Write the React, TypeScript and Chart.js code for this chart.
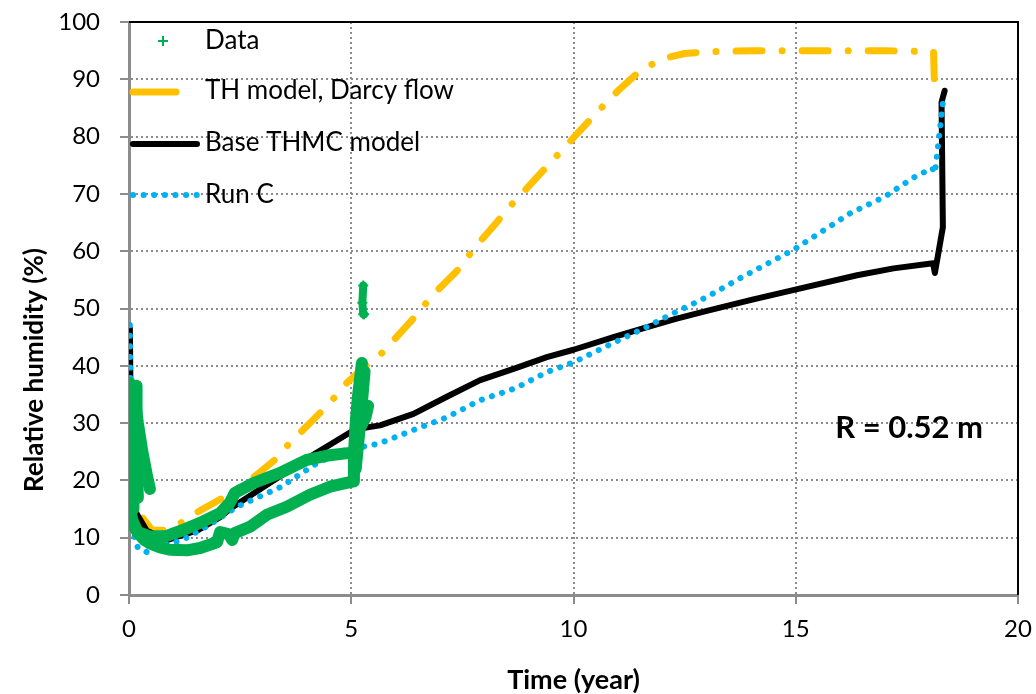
import React, { useEffect, useRef } from "react";
import { Chart, registerables } from "chart.js";

Chart.register(...registerables);

const FONT = "Lato, 'Liberation Sans', sans-serif";

// Axis ticks
const xTicks = [0, 5, 10, 15, 20];
const yTicks = [0, 10, 20, 30, 40, 50, 60, 70, 80, 90, 100];

// TH model, Darcy flow
const thTime = [0.31, 0.52, 0.81, 1.2, 1.55, 2.1, 2.72, 3.33, 3.58, 4.3, 4.57, 4.9, 5.35, 5.65, 5.92, 6.37, 6.84, 7.36, 7.83, 8.28, 8.53, 9.0, 9.5, 10.0, 10.5, 11.0, 11.5, 12.0, 12.5, 13.0, 14.0, 15.0, 16.0, 17.0, 18.1, 18.12, 18.25];
const thRH = [13.4, 11.3, 11.3, 12.7, 14.5, 16.9, 20.0, 23.9, 26.2, 31.8, 34.0, 37.0, 40.1, 41.9, 44.2, 48.0, 52.4, 56.4, 61.1, 65.1, 67.5, 71.4, 75.6, 79.8, 84.0, 88.0, 91.5, 93.6, 94.5, 94.8, 95.0, 95.0, 95.0, 95.0, 94.8, 89.5, 87.3];

// Base THMC model
const baseTime = [0.02, 0.03, 0.06, 0.15, 0.4, 0.87, 1.55, 2.05, 2.3, 3.0, 4.07, 5.0, 5.3, 5.65, 6.4, 7.15, 7.9, 8.7, 9.4, 10.0, 10.9, 11.6, 12.3, 13.0, 14.0, 14.94, 16.38, 17.2, 18.09, 18.13, 18.31, 18.28, 18.35];
const baseRH = [46.5, 38.0, 22.0, 14.5, 11.2, 9.6, 11.3, 13.6, 15.2, 18.7, 24.1, 28.5, 29.2, 29.6, 31.6, 34.6, 37.5, 39.6, 41.5, 42.8, 45.0, 46.6, 48.2, 49.6, 51.5, 53.2, 55.8, 57.0, 57.9, 56.2, 64.2, 86.0, 88.0];

// Run C
const runCTime = [0.02, 0.03, 0.05, 0.08, 0.2, 0.4, 0.81, 1.2, 1.8, 2.43, 3.4, 4.23, 4.97, 5.38, 5.65, 6.4, 7.15, 7.9, 8.7, 9.4, 10.0, 10.9, 11.6, 12.1, 13.0, 13.75, 14.94, 16.22, 17.0, 17.64, 18.07, 18.13, 18.17, 18.25, 18.31];
const runCRH = [47.1, 38.0, 13.6, 11.3, 8.2, 7.5, 8.7, 9.6, 12.2, 15.4, 18.8, 23.0, 25.7, 26.0, 26.5, 28.8, 31.0, 34.0, 36.1, 38.9, 40.6, 44.0, 46.6, 48.6, 52.0, 55.3, 60.2, 66.6, 69.5, 72.8, 74.5, 73.6, 76.4, 81.7, 85.9];

// Measured data, as continuous traces
const dataStartTime = [0.02, 0.02, 0.05, 0.1];
const dataStartRH = [37.0, 20.0, 14.0, 12.0];
const dataStart2Time = [0.1, 0.1];
const dataStart2RH = [36.0, 15.0];
const dataStart3Time = [0.17, 0.17, 0.2];
const dataStart3RH = [36.5, 24.0, 17.0];
const dataDropTime = [0.1, 0.2, 0.3, 0.4, 0.47];
const dataDropRH = [36.0, 30.0, 25.0, 21.0, 18.5];
const dataLowTime = [0.08, 0.2, 0.35, 0.47, 0.7, 0.92, 1.3, 1.6, 1.98, 2.05, 2.25, 2.32, 2.38, 2.72, 3.1, 3.55, 4.07, 4.52, 4.97, 5.04, 5.06, 5.1, 5.15, 5.24];
const dataLowRH = [13.0, 10.8, 9.6, 9.0, 8.3, 7.9, 7.8, 8.2, 9.2, 11.0, 10.6, 9.6, 10.8, 11.9, 14.0, 15.4, 17.5, 18.9, 19.7, 19.8, 24.5, 30.0, 34.6, 40.5];
const dataUpTime = [0.1, 0.2, 0.47, 0.85, 1.2, 1.6, 2.05, 2.27, 2.38, 2.79, 3.4, 4.0, 4.52, 4.97, 5.05];
const dataUpRH = [12.0, 11.0, 10.2, 10.3, 11.3, 12.6, 14.3, 16.1, 17.8, 19.5, 21.3, 23.6, 24.4, 24.8, 24.8];
const dataRiseTime = [5.1, 5.2, 5.3];
const dataRiseRH = [22.0, 30.0, 39.0];
const dataSpurTime = [5.22, 5.32, 5.38];
const dataSpurRH = [29.5, 31.0, 33.0];
const dataLateTime = [5.27, 5.25, 5.27, 5.29];
const dataLateRH = [54.0, 51.0, 49.0, 49.0];

const GREEN = "#00B050";
const ORANGE = "#FFC000";
const BLUE = "#00B0F0";

const pts = (t: number[], v: number[]) => t.map((x, i) => ({ x, y: v[i] }));

const greenTrace = (t: number[], v: number[], extra: any = {}) => ({
  label: "Data",
  data: pts(t, v),
  showLine: true,
  borderColor: GREEN,
  backgroundColor: GREEN,
  borderWidth: 12,
  borderCapStyle: "round",
  borderJoinStyle: "round",
  pointRadius: 0,
  order: 0,
  ...extra,
});

const legendItems = [
  { text: "Data", y: 41 },
  { text: "TH model, Darcy flow", y: 91 },
  { text: "Base THMC model", y: 143 },
  { text: "Run C", y: 195 },
];

const decorPlugin = {
  id: "decor",
  beforeDatasetsDraw(chart: any) {
    const { ctx, chartArea: a } = chart;
    ctx.save();
    ctx.strokeStyle = "#000";
    ctx.lineWidth = 2;
    ctx.beginPath();
    ctx.moveTo(a.left, a.top);
    ctx.lineTo(a.right, a.top);
    ctx.lineTo(a.right, a.bottom);
    ctx.stroke();
    ctx.restore();
  },
  afterDraw(chart: any) {
    const { ctx, scales } = chart;
    ctx.save();
    // legend symbols
    ctx.strokeStyle = GREEN;
    ctx.lineWidth = 2;
    ctx.beginPath();
    ctx.moveTo(158, 41);
    ctx.lineTo(168, 41);
    ctx.moveTo(163, 36);
    ctx.lineTo(163, 46);
    ctx.stroke();

    ctx.lineCap = "round";
    ctx.strokeStyle = ORANGE;
    ctx.lineWidth = 7;
    ctx.beginPath();
    ctx.moveTo(133, 92);
    ctx.lineTo(176, 92);
    ctx.stroke();

    ctx.strokeStyle = "#000";
    ctx.lineWidth = 6;
    ctx.beginPath();
    ctx.moveTo(133, 144);
    ctx.lineTo(197, 144);
    ctx.stroke();

    ctx.strokeStyle = BLUE;
    ctx.lineWidth = 6;
    ctx.setLineDash([0.1, 10.5]);
    ctx.beginPath();
    ctx.moveTo(133, 195);
    ctx.lineTo(197, 195);
    ctx.stroke();
    ctx.setLineDash([]);

    ctx.fillStyle = "#000";
    ctx.font = `26px ${FONT}`;
    ctx.textBaseline = "middle";
    ctx.textAlign = "left";
    legendItems.forEach((it) => ctx.fillText(it.text, 205, it.y));

    // radius label
    ctx.font = `bold 31px ${FONT}`;
    ctx.textAlign = "center";
    ctx.fillText("R = 0.52 m", scales.x.getPixelForValue(17.55), scales.y.getPixelForValue(29.1));

    // vertical axis title
    ctx.font = `bold 26px ${FONT}`;
    ctx.translate(35, 370);
    ctx.rotate(-Math.PI / 2);
    ctx.fillText("Relative humidity (%)", 0, 0);
    ctx.restore();
  },
};

export default function App() {
  const ref = useRef<HTMLCanvasElement | null>(null);

  useEffect(() => {
    if (!ref.current) return;
    const chart = new Chart(ref.current, {
      type: "scatter",
      data: {
        datasets: [
          greenTrace(dataStartTime, dataStartRH),
          greenTrace(dataStart2Time, dataStart2RH),
          greenTrace(dataStart3Time, dataStart3RH),
          greenTrace(dataDropTime, dataDropRH),
          greenTrace(dataLowTime, dataLowRH),
          greenTrace(dataUpTime, dataUpRH),
          greenTrace(dataRiseTime, dataRiseRH),
          greenTrace(dataSpurTime, dataSpurRH),
          greenTrace(dataLateTime, dataLateRH, {
            borderWidth: 8,
            pointRadius: 5,
            pointStyle: "cross",
            pointBorderWidth: 2,
            pointBorderColor: GREEN,
          }),
          {
            label: "Run C",
            data: pts(runCTime, runCRH),
            showLine: true,
            borderColor: BLUE,
            borderWidth: 6,
            borderDash: [0.1, 10.5],
            borderCapStyle: "round",
            pointRadius: 0,
            order: 1,
          },
          {
            label: "Base THMC model",
            data: pts(baseTime, baseRH),
            showLine: true,
            borderColor: "#000",
            borderWidth: 6,
            borderCapStyle: "round",
            borderJoinStyle: "round",
            pointRadius: 0,
            order: 2,
          },
          {
            label: "TH model, Darcy flow",
            data: pts(thTime, thRH),
            showLine: true,
            borderColor: ORANGE,
            borderWidth: 7,
            borderDash: [26, 20, 0.1, 20],
            borderCapStyle: "round",
            borderJoinStyle: "round",
            pointRadius: 0,
            order: 3,
          },
        ] as any,
      },
      options: {
        animation: false,
        responsive: false,
        layout: { padding: { left: 0, right: 18, top: 22, bottom: 0 } },
        plugins: { legend: { display: false }, tooltip: { enabled: false } },
        scales: {
          x: {
            type: "linear",
            min: 0,
            max: 20,
            afterFit: (s: any) => {
              s.height = 99;
              s.paddingLeft = 0;
              s.paddingRight = 0;
            },
            afterBuildTicks: (s: any) => {
              s.ticks = xTicks.map((value) => ({ value }));
            },
            ticks: {
              color: "#000",
              font: { family: FONT, size: 24 },
              padding: 11,
              maxRotation: 0,
            },
            grid: {
              color: "#8c8c8c",
              lineWidth: 2,
              tickLength: 9,
              tickColor: "#8c8c8c",
              tickWidth: 2,
            },
            border: { color: "#8c8c8c", width: 3, dash: [2, 3] },
            title: {
              display: true,
              text: "Time (year)",
              color: "#000",
              font: { family: FONT, size: 27, weight: "bold", lineHeight: 1.2 },
              padding: { top: 0, bottom: -2 },
            },
          },
          y: {
            type: "linear",
            min: 0,
            max: 100,
            afterFit: (s: any) => {
              s.width = 129;
              s.paddingTop = 0;
              s.paddingBottom = 0;
            },
            afterBuildTicks: (s: any) => {
              s.ticks = yTicks.map((value) => ({ value }));
            },
            ticks: {
              color: "#000",
              font: { family: FONT, size: 24 },
              padding: 20,
            },
            grid: {
              color: "#8c8c8c",
              lineWidth: 2,
              tickLength: 9,
              tickColor: "#8c8c8c",
              tickWidth: 2,
            },
            border: { color: "#8c8c8c", width: 3, dash: [2, 3] },
            title: { display: false },
          },
        },
      } as any,
      plugins: [decorPlugin],
    });
    return () => chart.destroy();
  }, []);

  return (
    <div style={{ position: "fixed", left: 0, top: 0, width: 1036, height: 694, background: "#fff" }}>
      <canvas ref={ref} width={1036} height={694} />
    </div>
  );
}
